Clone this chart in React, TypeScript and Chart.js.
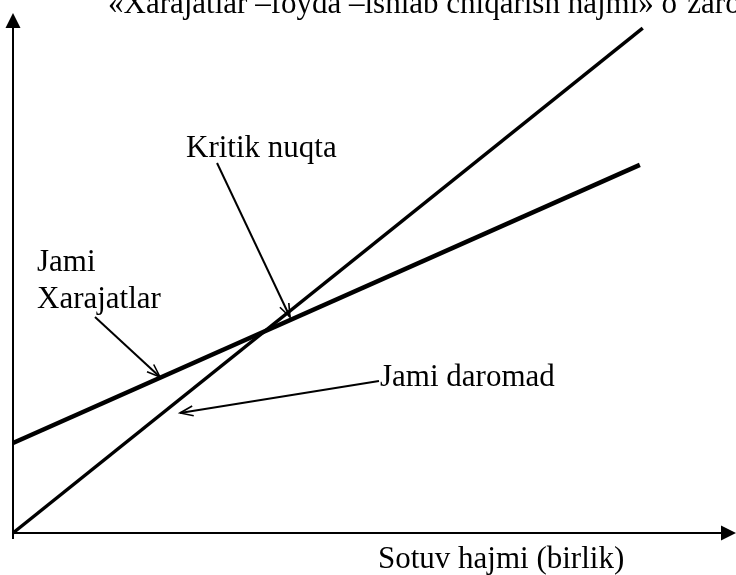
import React, { useEffect, useRef } from "react";
import { Chart, registerables } from "chart.js";

Chart.register(...registerables);

// ---- data ----
const revenueVolume = [0, 87.1];
const revenueValues = [0, 97.1];
const costVolume = [0, 86.7];
const costValues = [17.3, 70.8];

const titleText = "«Xarajatlar –foyda –ishlab chiqarish hajmi» o`zaro bog`liqligi";
const xAxisLabel = "Sotuv hajmi (birlik)";
const costLabelLines = ["Jami", "Xarajatlar"];
const revenueLabel = "Jami daromad";
const breakEvenLabel = "Kritik nuqta";

const FONT = "31px 'Liberation Serif', 'Times New Roman', serif";

function arrowLine(
  ctx: CanvasRenderingContext2D,
  x1: number,
  y1: number,
  x2: number,
  y2: number
) {
  ctx.save();
  ctx.strokeStyle = "#000";
  ctx.lineWidth = 2;
  ctx.beginPath();
  ctx.moveTo(x1, y1);
  ctx.lineTo(x2, y2);
  ctx.stroke();
  const ang = Math.atan2(y2 - y1, x2 - x1);
  const len = 14;
  const spread = 0.36;
  ctx.lineWidth = 1.6;
  ctx.beginPath();
  ctx.moveTo(x2 - len * Math.cos(ang - spread), y2 - len * Math.sin(ang - spread));
  ctx.lineTo(x2, y2);
  ctx.lineTo(x2 - len * Math.cos(ang + spread), y2 - len * Math.sin(ang + spread));
  ctx.stroke();
  ctx.restore();
}

const annotationPlugin = {
  id: "breakEvenAnnotations",
  afterDraw(chart: any) {
    const { ctx, chartArea, scales } = chart;
    const xs = scales.x;
    const ys = scales.y;
    const px = (v: number) => xs.getPixelForValue(v);
    const py = (v: number) => ys.getPixelForValue(v);

    ctx.save();
    // axes
    ctx.strokeStyle = "#000";
    ctx.fillStyle = "#000";
    ctx.lineWidth = 2;
    const ox = chartArea.left;
    const oy = chartArea.bottom;
    ctx.beginPath();
    ctx.moveTo(ox, oy + 6);
    ctx.lineTo(ox, chartArea.top + 14);
    ctx.stroke();
    ctx.beginPath();
    ctx.moveTo(ox, chartArea.top);
    ctx.lineTo(ox - 7.5, chartArea.top + 15);
    ctx.lineTo(ox + 7.5, chartArea.top + 15);
    ctx.closePath();
    ctx.fill();

    ctx.beginPath();
    ctx.moveTo(ox, oy);
    ctx.lineTo(chartArea.right - 14, oy);
    ctx.stroke();
    ctx.beginPath();
    ctx.moveTo(chartArea.right, oy);
    ctx.lineTo(chartArea.right - 15, oy - 7.5);
    ctx.lineTo(chartArea.right - 15, oy + 7.5);
    ctx.closePath();
    ctx.fill();

    // texts
    ctx.font = FONT;
    ctx.textBaseline = "alphabetic";
    ctx.textAlign = "left";
    ctx.fillText(titleText, px(13.14), py(100));
    ctx.fillText(breakEvenLabel, px(23.93), py(72.31));
    ctx.fillText(costLabelLines[0], px(3.32), py(50.38));
    ctx.fillText(costLabelLines[1], px(3.32), py(43.27));
    ctx.fillText(revenueLabel, px(50.76), py(28.27));
    ctx.fillText(xAxisLabel, px(50.48), py(-6.73));

    // pointer arrows
    arrowLine(ctx, px(28.22), py(71.15), px(38.31), py(41.54));
    arrowLine(ctx, px(11.34), py(41.54), px(20.33), py(30.0));
    arrowLine(ctx, px(50.62), py(29.23), px(23.1), py(23.08));
    ctx.restore();
  },
};

export default function App() {
  const canvasRef = useRef<HTMLCanvasElement | null>(null);

  useEffect(() => {
    document.body.style.margin = "0";
    const canvas = canvasRef.current;
    if (!canvas) return;
    const chart = new Chart(canvas, {
      type: "line",
      data: {
        datasets: [
          {
            label: "Jami Xarajatlar",
            data: costVolume.map((v, i) => ({ x: v, y: costValues[i] })),
            borderColor: "#000",
            borderWidth: 4.5,
            pointRadius: 0,
            tension: 0,
            clip: false as any,
          },
          {
            label: "Jami daromad",
            data: revenueVolume.map((v, i) => ({ x: v, y: revenueValues[i] })),
            borderColor: "#000",
            borderWidth: 3.5,
            pointRadius: 0,
            tension: 0,
            clip: false as any,
          },
        ],
      },
      options: {
        animation: false,
        responsive: false,
        maintainAspectRatio: false,
        devicePixelRatio: 1,
        layout: { padding: { left: 13, right: 0, top: 13, bottom: 42 } },
        plugins: {
          legend: { display: false },
          tooltip: { enabled: false },
          title: { display: false },
        },
        scales: {
          x: { type: "linear", min: 0, max: 100, display: false },
          y: { type: "linear", min: 0, max: 100, display: false },
        },
      },
      plugins: [annotationPlugin],
    });
    return () => chart.destroy();
  }, []);

  return (
    <div style={{ position: "absolute", left: 0, top: 0, width: 736, height: 575, background: "#fff" }}>
      <canvas ref={canvasRef} width={736} height={575} style={{ display: "block" }} />
    </div>
  );
}
